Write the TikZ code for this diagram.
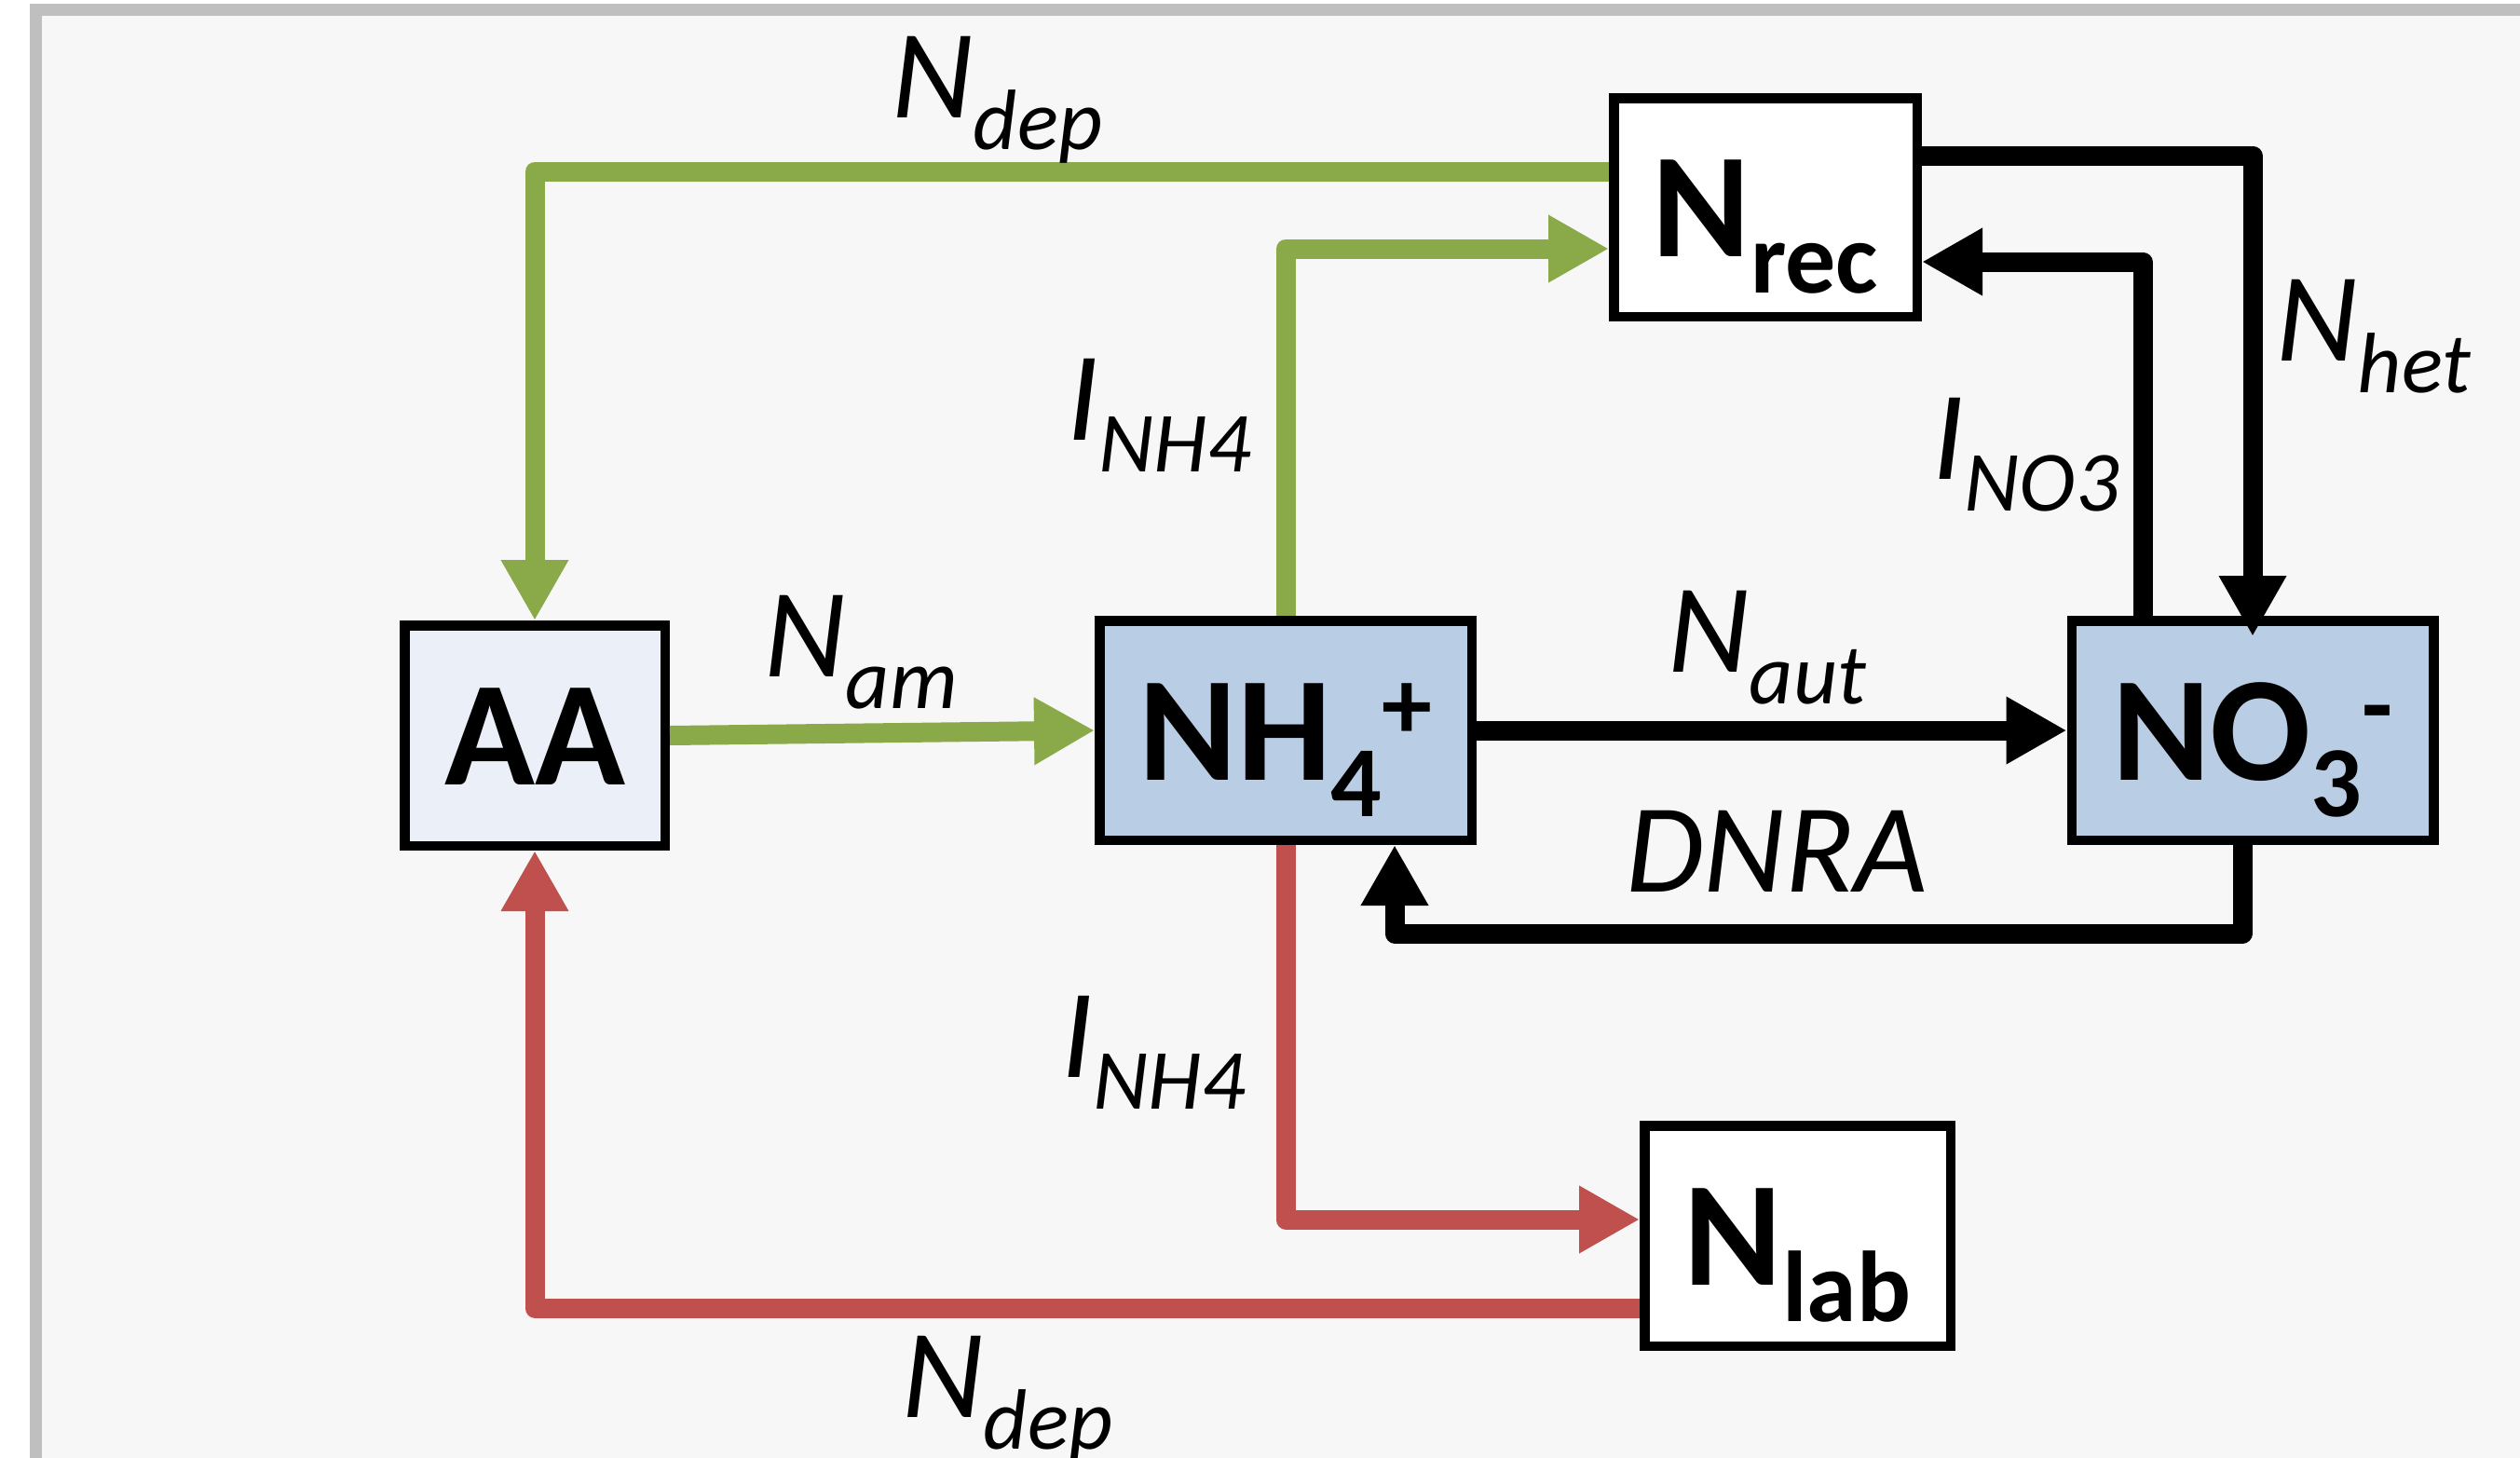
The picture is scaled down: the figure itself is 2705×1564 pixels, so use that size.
\documentclass[tikz,border=0pt]{standalone}
\usepackage{fontspec}
\setmainfont{Carlito}
\usetikzlibrary{arrows.meta,calc}
\definecolor{gflow}{RGB}{138,169,72}
\definecolor{rflow}{RGB}{192,80,77}
\definecolor{ionfill}{RGB}{185,205,229}
\definecolor{aafill}{RGB}{235,240,248}
\definecolor{panelbg}{RGB}{247,247,247}
\definecolor{panelframe}{RGB}{191,191,191}
\newcommand{\flowlab}[2]{\fontsize{136}{136}\selectfont\itshape #1\raisebox{-34pt}{\fontsize{92}{92}\selectfont #2}}
\newcommand{\boxlab}[3]{#1\raisebox{-39pt}{\fontsize{108}{108}\selectfont #2}\raisebox{44pt}{\fontsize{108}{108}\selectfont #3}}
\tikzset{
  poolbox/.style={draw=black, line width=10.5pt, inner sep=0pt, text height=110pt, text depth=4pt,
    font=\fontsize{160}{160}\selectfont\bfseries},
  flowline/.style={line width=21pt, line join=round, -{Triangle[length=65pt,width=68pt]}},
  gline/.style={flowline, draw=gflow},
  rline/.style={flowline, draw=rflow},
  kline/.style={flowline, draw=black},
  flowtext/.style={anchor=base west, inner sep=0pt}
}
\begin{document}
\begin{tikzpicture}[x=1pt,y=-1pt]
\useasboundingbox (0,0) rectangle (2705,1564);
\fill[white] (0,0) rectangle (2705,1564);
\begin{scope}
\clip (0,0) rectangle (2705,1564);
\draw[panelframe, fill=panelbg, line width=12.5pt] (38.5,10.5) rectangle (2760,1620);
\end{scope}

% pools
\node[poolbox, fill=aafill, minimum width=279.5pt, minimum height=236.5pt] (AA) at (574,789.5) {AA};
\node[poolbox, fill=ionfill, minimum width=399.5pt, minimum height=235.5pt] (NH4) at (1380,784) {\boxlab{NH}{4}{+}};
\node[poolbox, fill=ionfill, minimum width=388.5pt, minimum height=235.5pt] (NO3) at (2418,784) {\boxlab{NO}{3}{-}};
\node[poolbox, fill=white, minimum width=325.5pt, minimum height=234.5pt] (Nrec) at (1895,222.5) {\boxlab{N}{rec}{}};
\node[poolbox, fill=white, minimum width=328.5pt, minimum height=236.5pt] (Nlab) at (1929.5,1326.5) {\boxlab{N}{lab}{}};

% helper coordinates
\coordinate (dA) at ([xshift=-11pt]NO3.south);
\coordinate (dB) at ([xshift=117pt]NH4.south);
\coordinate (dY) at (0,1002);
\coordinate (inoA) at ([xshift=-118pt]NO3.north);

% green flows
\draw[gline] ([yshift=38.5pt]Nrec.west) -| (AA.north);
\draw[gline] (NH4.north) |- ([yshift=-44.5pt]Nrec.west);
\draw[gline] (AA.east) -- (NH4.west);

% red flows
\draw[rline] (NH4.south) |- ([yshift=17.5pt]Nlab.west);
\draw[rline] ([yshift=-77.5pt]Nlab.west) -| (AA.south);

% black flows
\draw[kline] ([yshift=55.5pt]Nrec.east) -| ([yshift=-22pt]NO3.north);
\draw[kline] (inoA) |- ([yshift=-58.5pt]Nrec.east);
\draw[kline] (NH4.east) -- (NO3.west);
\draw[kline] (dA) |- (dY -| dB) -- (dB);

% labels
\node[flowtext] (lNdepTop) at (957,126) {\flowlab{N}{dep}};
\node[flowtext] (lINH4g) at (1145,472) {\flowlab{I}{NH4}};
\node[flowtext] (lNam) at (820,726) {\flowlab{N}{am}};
\node[flowtext] (lNaut) at (1790,721) {\flowlab{N}{aut}};
\node[flowtext] (lDNRA) at (1745,957) {\fontsize{136}{136}\selectfont\itshape DNRA};
\node[flowtext] (lNhet) at (2443,387) {\flowlab{N}{het}};
\node[flowtext] (lINO3) at (2074,514) {\flowlab{I}{NO3}};
\node[flowtext] (lINH4r) at (1139,1156) {\flowlab{I}{NH4}};
\node[flowtext] (lNdepBot) at (968,1521) {\flowlab{N}{dep}};
\end{tikzpicture}
\end{document}
